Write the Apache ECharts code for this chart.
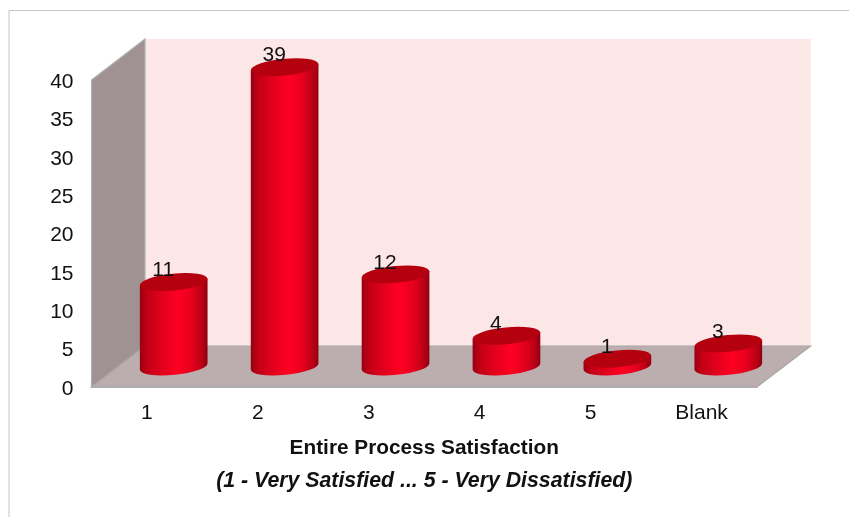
<!DOCTYPE html>
<html>
<head>
<meta charset="utf-8">
<style>html,body{margin:0;padding:0;background:#fff}#chart{width:849px;height:517px}</style>
<script src="https://cdn.jsdelivr.net/npm/echarts@6/dist/echarts.min.js"></script>
</head>
<body>
<div id="chart"></div>
<script>
// Survey responses per satisfaction rating
const categories = ['1', '2', '3', '4', '5', 'Blank'];
const responses = [11, 39, 12, 4, 1, 3];
const axisMax = 40;
const axisStep = 5;
const axisTitle = 'Entire Process Satisfaction';
const axisSubtitle = '(1 - Very Satisfied ... 5 - Very Dissatisfied)';

// Oblique projection used for the box and the cylinders
const DEPTH_X = 53.5;
const DEPTH_Y = -41;
const RX = 34;
const RY = 8.4;
const TILT = -5.5;
const FONT = '"Liberation Sans", Arial, sans-serif';

const rad = TILT * Math.PI / 180;
const ex = RX * Math.cos(rad);
const ey = RX * Math.sin(rad);

// Back wall, side wall and floor of the chart box
function renderBox(params) {
  const g = params.coordSys;
  const L = g.x, R = g.x + g.width, T = g.y, B = g.y + g.height;
  const poly = (points, fill, stroke) => ({
    type: 'polygon',
    shape: { points },
    style: { fill, stroke, lineWidth: 1.2 }
  });
  return {
    type: 'group',
    children: [
      poly([[L + DEPTH_X, T + DEPTH_Y], [R + DEPTH_X, T + DEPTH_Y], [R + DEPTH_X, B + DEPTH_Y],
            [L + DEPTH_X, B + DEPTH_Y]], '#fce6e6', 'rgba(0,0,0,0)'),
      poly([[L, T], [L + DEPTH_X, T + DEPTH_Y], [L + DEPTH_X, B + DEPTH_Y], [L, B]], '#a09292', '#b0b0b0'),
      poly([[L, B], [R, B], [R + DEPTH_X, B + DEPTH_Y], [L + DEPTH_X, B + DEPTH_Y]], '#bcaeae', '#a6a6a6')
    ]
  };
}

// One cylinder standing in the middle of the floor depth
function renderCylinder(params, api) {
  const index = api.value(0);
  const value = api.value(1);
  const top = api.coord([index, value]);
  const base = api.coord([index, 0]);
  const cx = top[0] + DEPTH_X / 2;
  const cyTop = top[1] + DEPTH_Y / 2;
  const cyBase = base[1] + DEPTH_Y / 2;
  const arc = `A${RX} ${RY} ${TILT}`;
  const body = `M${cx - ex} ${cyTop - ey}L${cx - ex} ${cyBase - ey}` +
    `${arc} 0 0 ${cx + ex} ${cyBase + ey}L${cx + ex} ${cyTop + ey}Z`;
  const cap = `M${cx - ex} ${cyTop - ey}${arc} 0 0 ${cx + ex} ${cyTop + ey}` +
    `${arc} 0 0 ${cx - ex} ${cyTop - ey}Z`;
  const shade = {
    type: 'linear', x: 0, y: 0, x2: 1, y2: 0,
    colorStops: [
      { offset: 0, color: '#960012' },
      { offset: 0.12, color: '#c40016' },
      { offset: 0.36, color: '#e6001e' },
      { offset: 0.56, color: '#ff0022' },
      { offset: 0.74, color: '#ea001e' },
      { offset: 0.9, color: '#c00016' },
      { offset: 1, color: '#8e0010' }
    ]
  };
  return {
    type: 'group',
    children: [
      { type: 'path', shape: { pathData: body }, style: { fill: shade } },
      { type: 'path', shape: { pathData: cap }, style: { fill: '#b4000f' } },
      {
        type: 'text',
        style: {
          text: String(value), x: cx - 10.5, y: cyTop - 11.5,
          fill: '#111', font: `21px ${FONT}`, align: 'center', verticalAlign: 'middle'
        }
      }
    ]
  };
}

const chart = echarts.init(document.getElementById('chart'));
chart.setOption({
  animation: false,
  backgroundColor: '#fff',
  grid: { left: 91.5, right: 92, top: 80, bottom: 130 },
  xAxis: {
    type: 'category',
    data: categories,
    axisTick: { show: false },
    axisLine: { lineStyle: { color: '#a6a6a6', width: 1.5 } },
    axisLabel: { color: '#111', fontFamily: FONT, fontSize: 21, margin: 16 },
    name: `{a|${axisTitle}}\n{b|${axisSubtitle}}`,
    nameLocation: 'middle',
    nameGap: 44.5,
    nameTextStyle: {
      rich: {
        a: { fontFamily: FONT, fontSize: 20.8, fontWeight: 'bold', color: '#111', height: 33, lineHeight: 33 },
        b: { fontFamily: FONT, fontSize: 21.3, fontWeight: 'bold', fontStyle: 'italic', color: '#111', height: 33, lineHeight: 33 }
      }
    }
  },
  yAxis: {
    type: 'value',
    min: 0,
    max: axisMax,
    interval: axisStep,
    axisLine: { show: true, lineStyle: { color: '#a6a6a6', width: 1.5 } },
    axisTick: { show: false },
    splitLine: { show: false },
    axisLabel: {
      margin: 18,
      formatter: '{v|{value}}',
      rich: { v: { color: '#111', fontFamily: FONT, fontSize: 21, padding: [4, 0, 0, 0] } }
    }
  },
  graphic: [
    { type: 'line', silent: true, shape: { x1: 9, y1: 10.5, x2: 849, y2: 10.5 }, style: { stroke: '#c4c4c4', lineWidth: 1 } },
    { type: 'line', silent: true, shape: { x1: 9, y1: 10.5, x2: 9, y2: 517 }, style: { stroke: '#c4c4c4', lineWidth: 1 } }
  ],
  series: [
    { type: 'custom', renderItem: renderBox, data: [[0, 0]], clip: false, silent: true, z: 1 },
    {
      type: 'custom',
      renderItem: renderCylinder,
      data: responses.map((v, i) => [i, v]),
      encode: { x: 0, y: 1 },
      clip: false,
      z: 3
    }
  ]
});
</script>
</body>
</html>
